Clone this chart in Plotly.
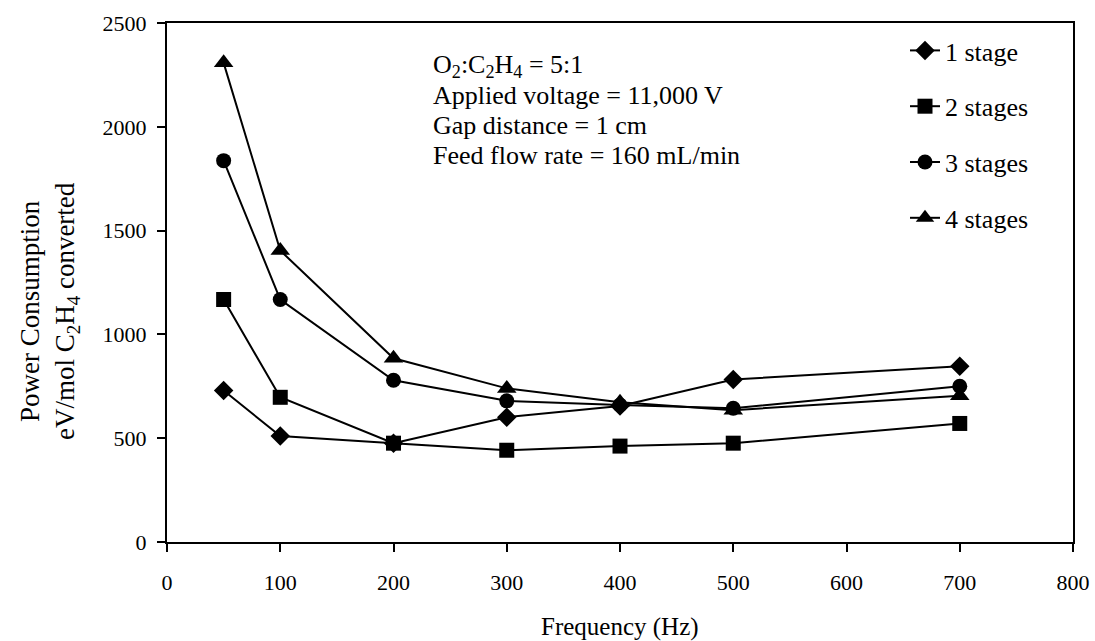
import plotly.graph_objects as go

freq = [50, 100, 200, 300, 400, 500, 700]
stage1 = [730, 510, 476, 601, 655, 783, 846]
stage2 = [1168, 697, 476, 442, 462, 476, 571]
stage3 = [1837, 1168, 779, 680, 660, 644, 750]
stage4 = [2308, 1404, 885, 740, 673, 635, 705]

series_names = ["1 stage", "2 stages", "3 stages", "4 stages"]
series_vals = [stage1, stage2, stage3, stage4]
symbols = ["diamond", "square", "circle", "triangle-up"]
sizes = [15, 15, 15, 17]

note_lines = [
    "O<sub>2</sub>:C<sub>2</sub>H<sub>4</sub> = 5:1",
    "Applied voltage = 11,000 V",
    "Gap distance = 1 cm",
    "Feed flow rate = 160 mL/min",
]

FONT = "Liberation Serif, Times New Roman, serif"

# plot area in pixels (for placing text in paper coordinates)
W, H = 1095, 641
L, R, T, B = 167, 22, 23, 99
PW, PH = W - L - R, H - T - B

def px_x(x):
    return (x - L) / PW

def px_y(y):
    return (H - B - y) / PH

fig = go.Figure()
for i, (nm, vals, sym, sz) in enumerate(zip(series_names, series_vals, symbols, sizes)):
    fig.add_trace(go.Scatter(
        x=freq, y=vals, name=nm, mode="lines+markers",
        legendgroup=f"g{i}",
        line=dict(color="black", width=2),
        marker=dict(symbol=sym, size=sz, color="black"),
    ))

annotations = []
for k, line in enumerate(note_lines):
    annotations.append(dict(
        xref="paper", yref="paper", x=px_x(431), y=px_y(66 + 29.7 * k),
        xanchor="left", yanchor="middle", align="left", showarrow=False,
        font=dict(family=FONT, size=26, color="black"), text=line,
    ))
annotations.append(dict(
    xref="paper", yref="paper", x=px_x(50), y=px_y(311),
    xanchor="center", yanchor="middle", showarrow=False, textangle=-90,
    font=dict(family=FONT, size=27, color="black"),
    text="Power Consumption<br>eV/mol C<sub>2</sub>H<sub>4</sub> converted",
))
annotations.append(dict(
    xref="paper", yref="paper", x=px_x(620), y=px_y(627),
    xanchor="center", yanchor="middle", showarrow=False,
    font=dict(family=FONT, size=25, color="black"),
    text="Frequency (Hz)",
))

fig.update_layout(
    width=W, height=H,
    margin=dict(l=L, r=R, t=T, b=B, autoexpand=False),
    paper_bgcolor="white", plot_bgcolor="white",
    font=dict(family=FONT, size=22, color="black"),
    showlegend=True,
    legend=dict(
        x=px_x(905), y=px_y(27), xanchor="left", yanchor="top",
        bgcolor="rgba(0,0,0,0)", borderwidth=0,
        font=dict(family=FONT, size=26, color="black"),
        tracegroupgap=19,
    ),
    xaxis=dict(
        range=[0, 800], tick0=0, dtick=100, automargin=False,
        showgrid=False, zeroline=False,
        showline=True, linecolor="black", linewidth=2, mirror=True,
        ticks="outside", ticklen=8, tickcolor="black", tickwidth=2,
        tickfont=dict(family=FONT, size=22), ticklabelstandoff=12,
    ),
    yaxis=dict(
        range=[0, 2500], tick0=0, dtick=500, automargin=False,
        showgrid=False, zeroline=False,
        showline=True, linecolor="black", linewidth=2, mirror=True,
        ticks="outside", ticklen=8, tickcolor="black", tickwidth=2,
        tickfont=dict(family=FONT, size=22), ticklabelstandoff=6,
    ),
    annotations=annotations,
)

fig.write_html("out.html")
